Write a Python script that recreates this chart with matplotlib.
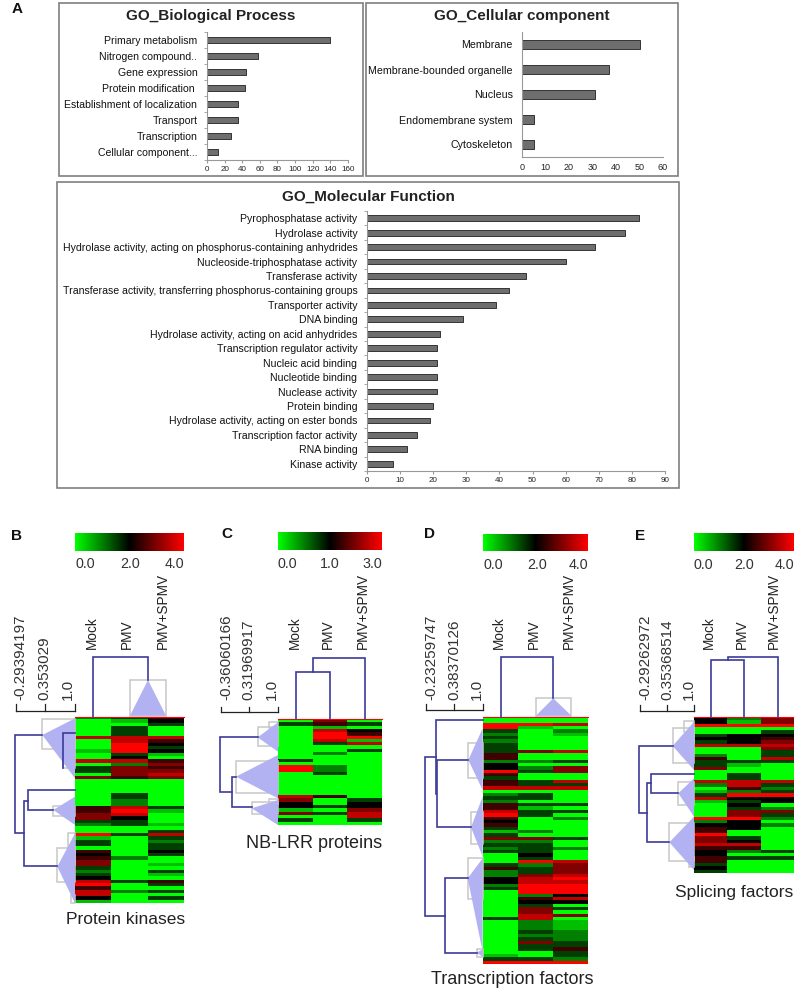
import numpy as np
import matplotlib
matplotlib.use("Agg")
import matplotlib.pyplot as plt
from matplotlib.colors import LinearSegmentedColormap

plt.rcParams["font.family"] = ["Liberation Sans", "DejaVu Sans"]

# GO bar data
bp_labels = ["Primary metabolism", "Nitrogen compound..", "Gene expression", "Protein modification ",
             "Establishment of localization", "Transport", "Transcription", "Cellular component..."]
bp_values = [140, 58, 44, 43, 35, 35, 27, 12]
cc_labels = ["Membrane", "Membrane-bounded organelle", "Nucleus", "Endomembrane system", "Cytoskeleton"]
cc_values = [50, 37, 31, 5, 5]
mf_labels = ["Pyrophosphatase activity", "Hydrolase activity",
             "Hydrolase activity, acting on phosphorus-containing anhydrides",
             "Nucleoside-triphosphatase activity", "Transferase activity",
             "Transferase activity, transferring phosphorus-containing groups",
             "Transporter activity", "DNA binding", "Hydrolase activity, acting on acid anhydrides",
             "Transcription regulator activity", "Nucleic acid binding", "Nucleotide binding",
             "Nuclease activity", "Protein binding", "Hydrolase activity, acting on ester bonds",
             "Transcription factor activity", "RNA binding", "Kinase activity"]
mf_values = [82, 78, 69, 60, 48, 43, 39, 29, 22, 21, 21, 21, 21, 20, 19, 15, 12, 8]

# heatmap rows, one digit per row: 0 = low (green), 4 = middle (black), 8 = high (red)
b_mock = "2000007000 1007033060 0000000556 6320081330 5456632347 857741"
b_pmv = "3103337788 8347266650 0003322787 4330030000 0020000003 002000"
b_spmv = "5430007543 4105656760 0000000310 0010373233 4300103105 303030"
c_mock = "0300000000 0030880000 0007644160 30"
c_pmv = "6517887300 2000223000 0005003030 00"
c_spmv = "0304581703 0000000000 0000344677 30"
d_mock = "0088323233 3552448535 5702325578 5453136232 3000352244 2300000000 3000000000 0138"
d_pmv = "0081000000 6002023003 3703303133 0000206233 3438233677 8882543667 7222323633 0038"
d_spmv = "0070210000 7003066007 3700003030 2000003002 0007666787 8884740306 0111222335 3328"
e_mock = "4480034370 0253360007 2013710000 8245586675 4455343"
e_pmv = "2180044470 0003100337 7528434366 8444003475 2030000"
e_spmv = "6680345676 3373000007 3238440263 2020000000 3030000"

conditions = ["Mock", "PMV", "PMV+SPMV"]
b_scale = ["-0.29394197", "0.353029", "1.0"]
c_scale = ["-0.36060166", "0.31969917", "1.0"]
d_scale = ["-0.23259747", "0.38370126", "1.0"]
e_scale = ["-0.29262972", "0.35368514", "1.0"]

W, H = 797, 992
LINE = "#3b3b9a"
TRI = "#b2b2f2"
BOX = "#c8c8c8"
FRAME = "#7f7f7f"
cmap = LinearSegmentedColormap.from_list("gbr", ["#00ff00", "#000000", "#ff0000"])

fig = plt.figure(figsize=(W / 100, H / 100), dpi=100)


def px_axes(x0, y0, x1, y1, z=1):
    return fig.add_axes([x0 / W, 1 - y1 / H, (x1 - x0) / W, (y1 - y0) / H], zorder=z)


over = px_axes(0, 0, W, H, z=5)
over.set_xlim(0, W)
over.set_ylim(H, 0)
over.axis("off")
over.patch.set_alpha(0)


def go_panel(box, rect, labels, values, xmax, step, title, title_y, lab_size, bar_h, lab_pad,
             tick_size, tick_pad, tick_len):
    over.add_patch(plt.Rectangle((box[0], box[1]), box[2] - box[0], box[3] - box[1],
                                 fill=False, ec=FRAME, lw=1.2))
    over.text((box[0] + box[2]) / 2, title_y, title, ha="center", va="center",
              fontsize=11, fontweight="bold", color="#222222")
    ax = px_axes(*rect)
    y = np.arange(len(values))
    ax.barh(y, values, height=bar_h, color="#6e6e6e", edgecolor="#333333", linewidth=0.7)
    ax.set_xlim(0, xmax)
    ax.set_ylim(len(values) - 0.5, -0.5)
    ax.set_xticks(np.arange(0, xmax + 1, step))
    ax.set_yticks(y)
    ax.set_yticklabels(labels, fontsize=lab_size, color="#111111")
    ax.set_yticks(np.arange(len(values) + 1) - 0.5, minor=True)
    ax.tick_params(axis="y", which="major", length=0, pad=lab_pad)
    ax.tick_params(axis="y", which="minor", length=tick_len, color="#999999")
    ax.tick_params(axis="x", length=tick_len, labelsize=tick_size, color="#999999", pad=tick_pad,
                   labelcolor="#222222")
    ax.spines["top"].set_visible(False)
    ax.spines["right"].set_visible(False)
    ax.spines["left"].set_color("#999999")
    ax.spines["bottom"].set_color("#999999")


go_panel((59, 3, 363, 176), (207, 32, 348, 160), bp_labels, bp_values, 160, 20,
         "GO_Biological Process", 16, 7.6, 0.4, 7, 5.8, 2, 2.5)
go_panel((366, 3, 678, 176), (522, 32, 663, 157), cc_labels, cc_values, 60, 10,
         "GO_Cellular component", 16, 7.7, 0.37, 6.5, 6.5, 4.5, 0)
go_panel((57, 182, 679, 488), (367, 211, 665, 471), mf_labels, mf_values, 90, 10,
         "GO_Molecular Function", 197, 7.6, 0.4, 7, 5.8, 2, 2.5)


def heat_panel(ox, oy, heat, bar, ticks, col_x, scale_labels, scale_x, scale_box, columns,
               col_tree, row_tree, tris, boxes, caption, cap_pos, cap_size):
    # everything here is measured on the 3x crop of the panel
    def X(v):
        return ox + v / 3

    def Y(v):
        return oy + v / 3

    rows = [s.replace(" ", "") for s in columns]
    n = max(len(r) for r in rows)
    data = np.array([[int(c) for c in r.ljust(n, r[-1])] for r in rows]).T
    ax = px_axes(X(heat[0]), Y(heat[1]), X(heat[2]), Y(heat[3]))
    ax.imshow(data, cmap=cmap, vmin=0, vmax=8, aspect="auto", interpolation="nearest")
    ax.axis("off")
    over.plot([X(heat[0]), X(heat[2])], [Y(heat[1])] * 2, color="#ff0000", lw=0.8)

    cb = px_axes(X(bar[0]), Y(bar[1]), X(bar[2]), Y(bar[3]))
    cb.imshow(np.linspace(0, 1, 256).reshape(1, -1), cmap=cmap, aspect="auto")
    cb.axis("off")
    for (tx, lab) in ticks:
        over.text(X(tx), Y(bar[3] + 41), lab, ha="center", va="center", fontsize=10.3, color="#333333")

    for cx, lab in zip(col_x, conditions):
        over.text(X(cx), Y(388), lab, rotation=90, ha="center", va="bottom", fontsize=9.8, color="#222222")
    for sx, lab in zip(scale_x, scale_labels):
        over.text(X(sx), Y(540), lab, rotation=90, ha="center", va="bottom", fontsize=11, color="#333333")

    # scale bracket
    sl, sm, sr, sy, st = scale_box
    over.plot([X(sl), X(sr)], [Y(sy), Y(sy)], color="#222222", lw=0.9)
    for tx in (sl, sm, sr):
        over.plot([X(tx), X(tx)], [Y(sy), Y(st)], color="#222222", lw=0.9)

    for b in boxes:
        over.add_patch(plt.Rectangle((X(b[0]), Y(b[1])), (b[2] - b[0]) / 3, (b[3] - b[1]) / 3,
                                     fill=False, ec=BOX, lw=1.1))
    for t in tris:
        over.fill([X(p[0]) for p in t], [Y(p[1]) for p in t], color=TRI, lw=0)
    for seg in col_tree + row_tree:
        over.plot([X(p[0]) for p in seg], [Y(p[1]) for p in seg], color=LINE, lw=1.2,
                  solid_joinstyle="miter")

    over.text(cap_pos[0], cap_pos[1], caption, ha="right", va="center", fontsize=cap_size, color="#222222")


heat_panel(0, 520, (225, 590, 552, 1150), (225, 38, 552, 92),
           [(255, "0.0"), (390, "2.0"), (522, "4.0")], (275, 382, 490),
           b_scale, (62, 132, 205), (47, 135, 225, 572, 553), [b_mock, b_pmv, b_spmv],
           [[(280, 590), (280, 410), (444, 410), (444, 480)]],
           [[(127, 645), (45, 645), (45, 940), (73, 940)],
            [(172, 1037), (73, 1037), (73, 842), (85, 842)],
            [(225, 810), (85, 810), (85, 870), (160, 870)],
            [(225, 640), (190, 640), (190, 745)]],
           [[(444, 480), (390, 587), (498, 587)], [(127, 645), (225, 595), (225, 775)],
            [(160, 870), (225, 830), (225, 915)], [(172, 1040), (225, 940), (225, 1150)]],
           [(390, 480, 498, 587), (125, 598, 225, 688), (158, 857, 225, 888), (172, 985, 225, 1085),
            (190, 640, 225, 745), (205, 940, 225, 1035), (212, 1125, 225, 1150)],
           "Protein kinases", (185, 919), 12.5)

heat_panel(210, 520, (204, 597, 516, 915), (204, 37, 516, 90),
           [(232, "0.0"), (360, "1.0"), (487, "3.0")], (255, 355, 458),
           c_scale, (48, 116, 185), (33, 118, 203, 577, 560), [c_mock, c_pmv, c_spmv],
           [[(257, 597), (257, 455), (360, 455), (360, 597)],
            [(309, 455), (309, 413), (465, 413), (465, 597)]],
           [[(143, 652), (30, 652), (30, 815), (65, 815)],
            [(78, 770), (65, 770), (65, 862), (125, 862)]],
           [[(143, 652), (204, 607), (204, 695)], [(78, 770), (204, 705), (204, 835)],
            [(125, 865), (204, 840), (204, 915)]],
           [(143, 622, 204, 677), (177, 605, 204, 625), (78, 722, 204, 820), (125, 847, 204, 882),
            (177, 838, 204, 853)],
           "NB-LRR proteins", (382, 843), 13)

heat_panel(400, 520, (248, 590, 563, 1332), (250, 42, 563, 93),
           [(280, "0.0"), (410, "2.0"), (535, "4.0")], (298, 402, 507),
           d_scale, (95, 163, 232), (77, 162, 248, 570, 553), [d_mock, d_pmv, d_spmv],
           [[(304, 590), (304, 410), (460, 410), (460, 535)]],
           [[(108, 712), (76, 712), (76, 1187), (135, 1187)],
            [(248, 600), (108, 600), (108, 822)],
            [(205, 720), (110, 720), (110, 920), (213, 920)],
            [(203, 1075), (135, 1075), (135, 1298), (230, 1298)]],
           [[(460, 535), (408, 587), (514, 587)], [(205, 720), (248, 625), (248, 810)],
            [(213, 922), (248, 830), (248, 1010)], [(203, 1075), (248, 1015), (248, 1295)],
            [(230, 1298), (248, 1288), (248, 1310)]],
           [(408, 533, 514, 587), (205, 668, 248, 775), (213, 875, 248, 972), (203, 1015, 248, 1137),
            (230, 1288, 248, 1310)],
           "Transcription factors", (594, 980), 13)

heat_panel(610, 520, (252, 592, 550, 1058), (252, 40, 550, 93),
           [(280, "0.0"), (403, "2.0"), (522, "4.0")], (298, 397, 492),
           e_scale, (105, 172, 237), (90, 170, 252, 573, 555), [e_mock, e_pmv, e_spmv],
           [[(303, 592), (303, 420), (403, 420), (403, 592)],
            [(353, 420), (353, 411), (503, 411), (503, 592)]],
           [[(188, 678), (87, 678), (87, 878), (110, 878)],
            [(122, 790), (110, 790), (110, 967), (178, 967)],
            [(252, 762), (122, 762), (122, 820), (205, 820)]],
           [[(188, 678), (252, 605), (252, 750)], [(205, 820), (252, 775), (252, 890)],
            [(178, 967), (252, 890), (252, 1050)]],
           [(188, 625, 252, 728), (222, 603, 252, 635), (203, 785, 252, 855), (177, 910, 252, 1022),
            (236, 640, 252, 670), (236, 1012, 252, 1040)],
           "Splicing factors", (793, 892), 12.5)

for letter, lx, ly in [("A", 17, 9), ("B", 17, 536), ("C", 227, 534), ("D", 430, 534), ("E", 640, 536)]:
    over.text(lx, ly, letter, ha="center", va="center", fontsize=11, fontweight="bold", color="#111111")

fig.savefig("out.png", dpi=100)
